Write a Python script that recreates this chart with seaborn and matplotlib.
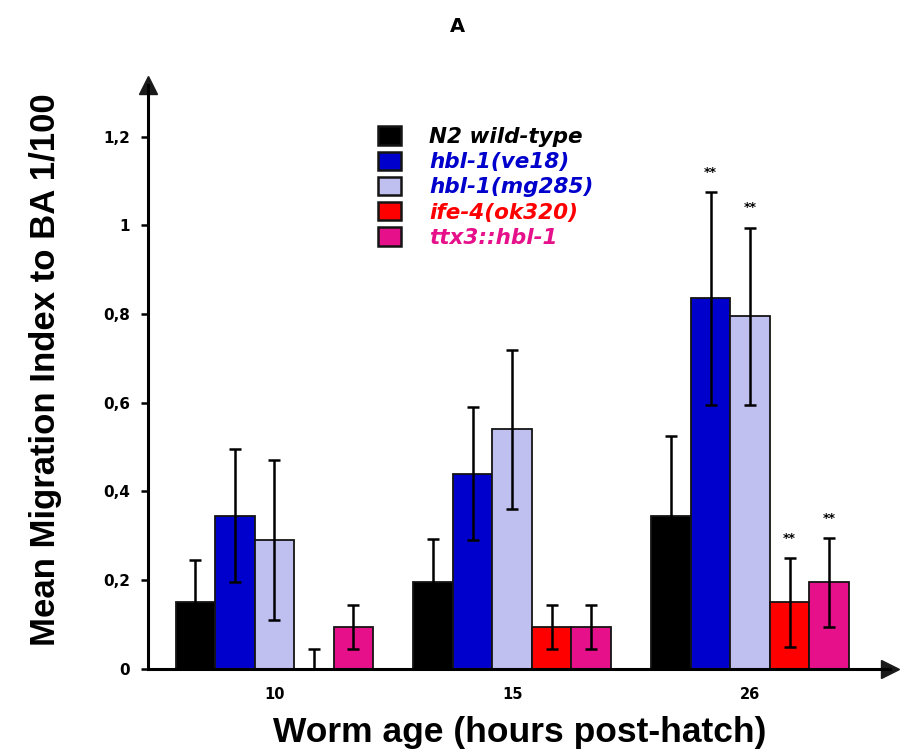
import numpy as np
import pandas as pd
import matplotlib
matplotlib.use("Agg")
import matplotlib.pyplot as plt
import seaborn as sns

# ========== data ==========
ages = ["10", "15", "26"]
strains = ["N2 wild-type", "hbl-1(ve18)", "hbl-1(mg285)", "ife-4(ok320)", "ttx3::hbl-1"]

n2_mean = [0.15, 0.195, 0.345]
ve18_mean = [0.345, 0.44, 0.835]
mg285_mean = [0.29, 0.54, 0.795]
ife4_mean = [0.0, 0.095, 0.15]
ttx3_mean = [0.095, 0.095, 0.195]

n2_err = [0.095, 0.097, 0.18]
ve18_err = [0.15, 0.15, 0.24]
mg285_err = [0.18, 0.18, 0.2]
ife4_err = [0.045, 0.05, 0.1]
ttx3_err = [0.05, 0.05, 0.1]

# significance marks (strain index, age index)
stars = [(1, 2), (2, 2), (3, 2), (4, 2)]

colors = ["#000000", "#0000CC", "#C0C0F0", "#FF0000", "#E6108A"]
text_colors = ["#000000", "#0000CC", "#0000CC", "#FF0000", "#E6108A"]

means = [n2_mean, ve18_mean, mg285_mean, ife4_mean, ttx3_mean]
errs = [n2_err, ve18_err, mg285_err, ife4_err, ttx3_err]

rows = []
for s, m, e in zip(strains, means, errs):
    for a, v, ev in zip(ages, m, e):
        rows.append({"age": a, "strain": s, "value": v, "err": ev})
df = pd.DataFrame(rows)

# ========== plot ==========
sns.set_theme(style="white")
plt.rcParams["font.family"] = ["Liberation Sans", "DejaVu Sans"]
plt.rcParams["font.weight"] = "bold"
for key in ["text.color", "axes.labelcolor", "xtick.color", "ytick.color"]:
    plt.rcParams[key] = "black"
wide = ["DejaVu Sans"]

fig = plt.figure(figsize=(9.04, 7.53), dpi=100)
ax = fig.add_axes([0.164, 0.1116, 0.821, 0.776])

sns.barplot(data=df, x="age", y="value", hue="strain", order=ages, hue_order=strains,
            palette=colors, saturation=1, errorbar=None, width=0.83, edgecolor="#141414",
            linewidth=1.3, ax=ax)

# error bars + stars placed on bar centres
bar_groups = list(ax.containers)
for i, cont in enumerate(bar_groups):
    sub = df[df["strain"] == strains[i]].set_index("age").loc[ages]
    xs = [p.get_x() + p.get_width() / 2 for p in cont.patches]
    ax.errorbar(xs, sub["value"], yerr=sub["err"], fmt="none", ecolor="#000000",
                elinewidth=1.8, capsize=4.5, capthick=1.8, zorder=5)
    for si, ai in stars:
        if si == i:
            top = sub["value"].iloc[ai] + sub["err"].iloc[ai]
            ax.text(xs[ai], top + 0.03, "**", ha="center", va="bottom",
                    fontsize=9, fontweight="bold", family=wide, color="black")

ax.set_ylim(0, 1.317)
ax.set_xlim(-0.53, 2.59)
ax.set_yticks([0, 0.2, 0.4, 0.6, 0.8, 1.0, 1.2])
ax.set_yticklabels(["0", "0,2", "0,4", "0,6", "0,8", "1", "1,2"], fontsize=11,
                   fontweight="bold", family=wide)
ax.set_xticks(range(len(ages)))
ax.set_xticklabels(ages, fontsize=10.5, fontweight="bold", family=wide)
ax.tick_params(axis="x", length=0, pad=13)
ax.tick_params(axis="y", length=5, width=1.8, pad=8, direction="out", left=True, color="black")

# arrow axes
for side in ["top", "right"]:
    ax.spines[side].set_visible(False)
for side in ["left", "bottom"]:
    ax.spines[side].set_linewidth(2.2)
    ax.spines[side].set_color("black")
ax.plot(1, 0, ">k", markersize=13, transform=ax.transAxes, clip_on=False)
ax.plot(0, 1, "^k", markersize=13, transform=ax.transAxes, clip_on=False)

ax.set_xlabel("Worm age (hours post-hatch)", fontsize=25.5, fontweight="bold", labelpad=10)
ax.set_ylabel("Mean Migration Index to BA 1/100", fontsize=25, fontweight="bold")
ax.yaxis.set_label_coords(-0.116, 0.512)

fig.text(0.506, 0.965, "A", ha="center", va="center", fontsize=14, fontweight="bold", family=wide)

leg = ax.legend(loc="upper left", bbox_to_anchor=(0.413, 0.838), bbox_transform=fig.transFigure,
                frameon=False, handlelength=1.1, handleheight=0.93, handletextpad=1.3,
                labelspacing=0.22, borderaxespad=0, borderpad=0.2,
                prop={"family": wide, "size": 15.5, "weight": "bold", "style": "italic"})
for t, c in zip(leg.get_texts(), text_colors):
    t.set_color(c)
for h in leg.legend_handles:
    h.set_edgecolor("#141414")
    h.set_linewidth(1.8)

fig.savefig("out.png", dpi=100)
